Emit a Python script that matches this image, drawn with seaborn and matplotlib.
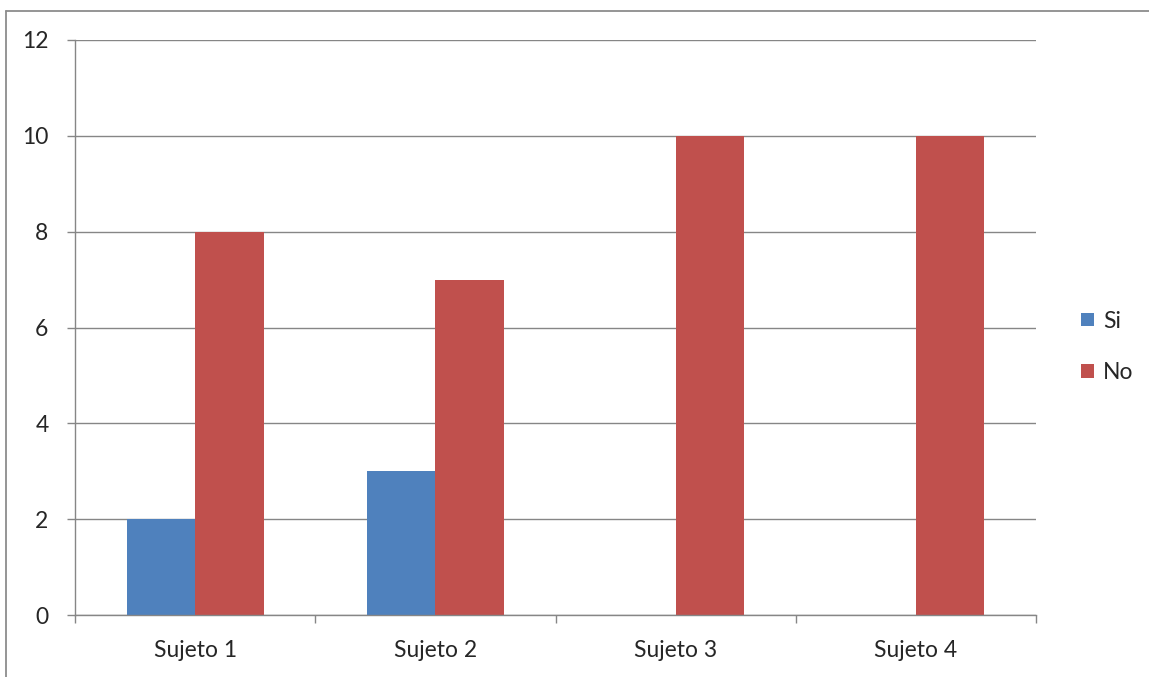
import matplotlib
matplotlib.use("Agg")
import matplotlib.pyplot as plt
from matplotlib.lines import Line2D
from matplotlib.patches import Patch
import seaborn as sns
import pandas as pd
import numpy as np

# Data
sujetos = ["Sujeto 1", "Sujeto 2", "Sujeto 3", "Sujeto 4"]
si = [2, 3, 0, 0]
no = [8, 7, 10, 10]
series = ["Si", "No"]
colores = ["#4F81BD", "#C0504D"]

df = pd.DataFrame({
    "sujeto": sujetos * 2,
    "valor": si + no,
    "respuesta": ["Si"] * len(sujetos) + ["No"] * len(sujetos),
})

sns.set_style("white")
plt.rcParams["font.family"] = ["Lato", "DejaVu Sans"]

fig = plt.figure(figsize=(11.49, 6.77), dpi=100)
W, H = 1149, 677
ax = fig.add_axes([75 / W, 1 - 615 / H, (1036 - 75) / W, (615 - 40) / H])

sns.barplot(data=df, x="sujeto", y="valor", hue="respuesta",
            hue_order=series, palette=colores, width=0.57,
            saturation=1, linewidth=0, ax=ax, legend=False)

grid_c = "#868686"
fs = 16.5
ax.set_ylim(0, 12)
ax.set_xlim(-0.5, len(sujetos) - 0.5)
ax.set_yticks(np.arange(0, 13, 2))
ax.yaxis.grid(True, color=grid_c, linewidth=1.0)
ax.set_axisbelow(True)
ax.set_xlabel("")
ax.set_ylabel("")

for s in ["top", "right"]:
    ax.spines[s].set_visible(False)
for s in ["left", "bottom"]:
    ax.spines[s].set_color(grid_c)
    ax.spines[s].set_linewidth(1.0)

ax.tick_params(axis="y", length=6, width=1.0, color=grid_c, pad=13,
               labelsize=fs, left=True)
ax.tick_params(axis="x", which="major", length=0, pad=18, labelsize=fs)
ax.set_xticks(np.arange(-0.5, len(sujetos), 1.0), minor=True)
ax.tick_params(axis="x", which="minor", length=6, width=1.0, color=grid_c,
               bottom=True)

handles = [Patch(facecolor=c, edgecolor="none") for c in colores]
fig.legend(handles, series, loc="center left",
           bbox_to_anchor=(1070 / W, 1 - 347 / H), frameon=False,
           fontsize=fs, handlelength=0.55, handleheight=0.55,
           handletextpad=0.4, labelspacing=1.35, borderpad=0)

# Outer chart frame
fig.add_artist(Line2D([5.5 / W, 5.5 / W], [0, 1 - 10.5 / H],
                      transform=fig.transFigure, color="#8C8C8C", linewidth=1.3))
fig.add_artist(Line2D([5.5 / W, 1], [1 - 10.5 / H, 1 - 10.5 / H],
                      transform=fig.transFigure, color="#8C8C8C", linewidth=1.3))

fig.savefig("out.png", dpi=100)
